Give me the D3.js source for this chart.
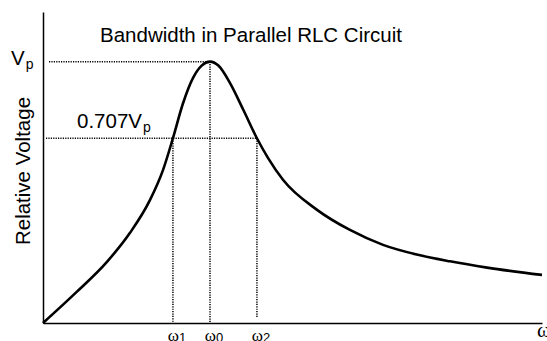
<!DOCTYPE html>
<html>
<head>
<meta charset="utf-8">
<script src="https://cdn.jsdelivr.net/npm/d3@7"></script>
<style>
  html, body { margin: 0; padding: 0; background: #fff; }
  svg { display: block; }
  text { font-family: "Liberation Sans", Arial, sans-serif; fill: #000; }
  .greek { font-family: "Liberation Serif", "Times New Roman", serif; }
</style>
</head>
<body>
<svg id="chart" width="547" height="341"></svg>
<script>
// Normalised frequency (ω / ω0) and relative voltage (V / Vp) along the response curve
const omega = [0, 0.2, 0.383, 0.521, 0.641, 0.719, 0.778, 0.838, 0.9, 0.95, 1.0,
               1.05, 1.12, 1.2, 1.281, 1.347, 1.437, 1.641, 1.838, 2.036, 2.238, 2.437, 2.659, 2.988];
const voltage = [0, 0.118, 0.234, 0.345, 0.471, 0.586, 0.707, 0.84, 0.94, 0.985, 1.0,
                 0.985, 0.918, 0.815, 0.707, 0.632, 0.548, 0.433, 0.356, 0.299, 0.262, 0.236, 0.212, 0.184];

// Marked frequencies: lower half-power, resonance, upper half-power
const markNames = ["1", "0", "2"];
const markOmega = [0.778, 1.0, 1.281];
const markLevel = [0.707, 1.0, 0.707];

// Reference levels on the voltage axis
const levelValues = [1.0, 0.707];
const levelLabels = ["V", "0.707V"];

const titleText = "Bandwidth in Parallel RLC Circuit";
const yTitle = "Relative Voltage";

const svg = d3.select("#chart");

const x = d3.scaleLinear().domain([0, 2.988]).range([43, 542]);
const y = d3.scaleLinear().domain([0, 1.19]).range([323, 12]);

// Axes: plain lines without ticks
svg.append("g")
  .attr("transform", `translate(0,${y(0)})`)
  .call(d3.axisBottom(x).tickValues([]).tickSizeOuter(0))
  .call(g => g.select(".domain").attr("stroke", "#000").attr("stroke-width", 1.5));

svg.append("g")
  .attr("transform", `translate(${x(0)},0)`)
  .call(d3.axisLeft(y).tickValues([]).tickSizeOuter(0))
  .call(g => g.select(".domain").attr("stroke", "#000").attr("stroke-width", 1.5));

// Dotted guide lines
const dotted = svg.append("g")
  .attr("fill", "none")
  .attr("stroke", "#000")
  .attr("stroke-width", 1.5)
  .attr("stroke-dasharray", "1.2,1.2");

// horizontal guides from the axis to the curve
const hStart = [49, 46];
const hEnd = [markOmega[1], markOmega[2]];
levelValues.forEach((v, i) => {
  dotted.append("line")
    .attr("x1", hStart[i]).attr("x2", x(hEnd[i]))
    .attr("y1", y(v)).attr("y2", y(v));
});

// vertical guides from the curve down to the frequency axis
const vBottom = [0, 0, 0.02];
markOmega.forEach((w, i) => {
  dotted.append("line")
    .attr("x1", x(w)).attr("x2", x(w))
    .attr("y1", y(markLevel[i])).attr("y2", y(vBottom[i]));
});

// Response curve
const line = d3.line()
  .x(d => x(d[0]))
  .y(d => y(d[1]))
  .curve(d3.curveMonotoneX);

svg.append("path")
  .datum(d3.zip(omega, voltage))
  .attr("fill", "none")
  .attr("stroke", "#000")
  .attr("stroke-width", 2.6)
  .attr("stroke-linejoin", "round")
  .attr("d", line);

// Title
svg.append("text")
  .attr("x", 100).attr("y", 42)
  .attr("font-size", 20.5)
  .text(titleText);

// Vertical axis title
svg.append("text")
  .attr("transform", `translate(30,${171}) rotate(-90)`)
  .attr("text-anchor", "middle")
  .attr("font-size", 20.5)
  .text(yTitle);

// Level labels with subscript p
const levelX = [11, 77];
const levelY = [65, 128];
levelValues.forEach((v, i) => {
  const t = svg.append("text")
    .attr("x", levelX[i]).attr("y", levelY[i])
    .attr("font-size", 20.5);
  t.append("tspan").text(levelLabels[i]);
  t.append("tspan").attr("font-size", 14).attr("dy", 4).attr("dx", 1).text("p");
});

// Frequency labels under the axis
markOmega.forEach((w, i) => {
  const t = svg.append("text")
    .attr("x", x(w) + 4).attr("y", 341)
    .attr("text-anchor", "middle")
    .attr("font-size", 17);
  t.append("tspan").attr("class", "greek").text("ω");
  t.append("tspan").attr("font-size", 13).attr("dy", 1).text(markNames[i]);
});

// Axis variable at the end of the frequency axis
svg.append("text")
  .attr("class", "greek")
  .attr("x", 537).attr("y", 337)
  .attr("font-size", 21)
  .text("ω");
</script>
</body>
</html>
